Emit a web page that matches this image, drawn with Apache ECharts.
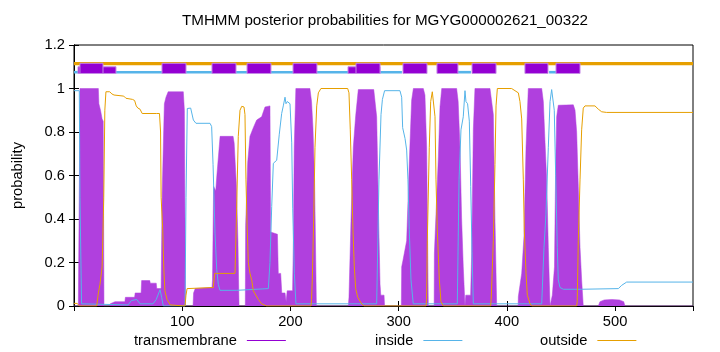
<!DOCTYPE html>
<html><head><meta charset="utf-8">
<script src="https://cdn.jsdelivr.net/npm/echarts@6/dist/echarts.min.js"></script>
<style>html,body{margin:0;padding:0;background:#fff}#c{width:720px;height:352px}</style>
</head><body><div id="c"></div>
<script>
// ---- data (residue position, probability) ----
const tmProb = [[0,0],[4,0],[4.5,0.3],[5,0.6],[5.5,1.0],[22.5,1.0],[23,0.93],[24.5,0.9],[26,0.86],[27,0.85],[27.7,0],
[33,0],[33.5,0.01],[37.9,0.02],[47,0.02],[47.5,0.04],[56,0.04],[56.5,0.06],[62,0.06],[62.5,0.117],[70,0.117],[70.5,0.105],[76,0.105],[76.5,0.08],[80.5,0.08],
[81,0.3],[81.5,0.52],[82.5,0.73],[83.5,0.93],[85,0.96],[87,0.985],[101,0.985],[102,0.9],[103,0],
[110,0],[110.5,0.06],[112,0.08],[127.5,0.085],[128,0.12],
[129,0.55],[131,0.53],[132,0.6],[133.5,0.69],[135,0.78],[147,0.78],[148,0.75],[150,0.56],[151.5,0.3],[152.5,0],
[158.3,0],[158.6,0.37],[160.5,0.66],[162.6,0.78],[165.7,0.82],[168.8,0.855],[173.4,0.87],[176.5,0.915],[181.1,0.92],[181.7,0.34],[188,0.33],[188.8,0.15],[191,0.15],[192,0.06],[195,0.06],[196,0.02],[197,0.07],[202,0.07],
[202.7,0.3],[203.5,0.73],[205,1.0],[218,1.0],[219.5,0.94],[220.8,0.82],[222.3,0.58],[224,0],
[253.5,0],[254.1,0.04],[256,0.4],[258.1,0.73],[260.3,0.875],[262.7,0.995],[277,0.995],[279.7,0.87],[281.5,0.4],[282.8,0.1],[283.5,0.05],[286.5,0.05],[287,0],
[302.5,0],[302.8,0.18],[304,0.21],[307.4,0.3],[309.8,0.656],[312,0.946],[313.6,1.0],[322.8,1.0],[324.3,0.97],[325.9,0.73],[327.4,0],
[332.8,0],[333,0.24],[336.7,0.686],[338.2,0.915],[339.8,1.0],[353.6,1.0],[355,0.94],[356.7,0.73],[358.2,0.4],[359.7,0.18],[361.3,0],[362,0.05],[366.5,0.05],
[367.5,0.24],[369,0.81],[370.5,1.0],[384.4,1.0],[387.5,0.88],[389,0.4],[390.6,0],
[410.4,0],[410.6,0.044],[413.7,0.15],[415.8,0.32],[417.7,0.73],[419.8,1.0],[432.2,1.0],[433.7,0.94],[435.2,0.76],[436.8,0.58],[438.3,0.27],[439.9,0],
[441,0],[442,0.05],[444,0.18],
[445,0.6],[446,0.87],[447.5,0.923],[449.1,0.925],[461.4,0.925],[463,0.9],[464.5,0.8],[466,0.55],[467.6,0.27],[469.1,0.12],[470.6,0],
[484.5,0],[486,0.02],[490,0.028],[497,0.03],[504,0.028],[508,0.02],[509.1,0],[572,0]];

const insideProb = [[0,0.99],[4.9,0.99],[5.5,0.5],[7,0.01],[50,0.005],[53,0.025],[58,0.03],[61,0.01],[73,0.01],[76,0.03],[79.5,0.075],[81,0.04],[82.5,0.0],[102.6,0.0],[103.5,0.5],[104.7,0.908],[107.8,0.91],[110.3,0.855],[112.7,0.84],[125.7,0.84],[127.2,0.825],[128.5,0.65],[130.3,0.335],[131.9,0.167],[133.4,0.098],[134.9,0.072],[150.3,0.072],[151.8,0.08],[179.6,0.08],[181.1,0.2],[182.7,0.457],[184.2,0.656],[187.3,0.67],[189.7,0.79],[191.9,0.885],[193.4,0.92],[195,0.96],[195.9,0.93],[197.1,0.94],[199.6,0.93],[201.2,0.75],[202.1,0.45],[203.6,0.15],[205.1,0.01],[279.7,0.01],[281.8,0.58],[283.7,0.88],[285,0.95],[287,0.99],[301.2,0.99],[302.8,0.96],[303.7,0.82],[305.9,0.77],[307.4,0.717],[308.6,0.58],[309.8,0.35],[311.4,0.12],[313.5,0.01],[354.2,0.01],[355.8,0.58],[357.6,0.81],[359.7,0.87],[361.3,0.99],[362.2,0.94],[363.7,0.93],[365.3,0.85],[366.6,0.55],[367.8,0.25],[369,0.01],[432.2,0.01],[434.3,0.27],[436.1,0.42],[438.3,0.73],[439.9,0.94],[441.4,0.995],[442.9,0.99],[443.8,0.9],[445.1,0.6],[446.6,0.27],[447.5,0.12],[449.1,0.085],[452.2,0.077],[469.1,0.077],[470.6,0.08],[503,0.08],[506.1,0.095],[510.7,0.11],[572,0.11]];

const outsideProb = [[0,0.012],[3,0.012],[5,0.0],[21,0.0],[22.5,0.06],[24,0.1],[26,0.18],[27.5,0.5],[28.5,0.9],[29.5,0.985],[31,0.99],[33,0.985],[35,0.975],[37,0.97],[46,0.965],[48,0.955],[54,0.95],[56,0.945],[57.5,0.92],[59,0.91],[61,0.905],[63,0.885],[76.4,0.885],[77.5,0.888],[79,0.885],[80,0.8],[80.5,0.5],[82,0.35],[83,0.17],[84,0.07],[86,0.03],[89,0.005],[102.6,0.0],[103.5,0.05],[104.5,0.08],[106,0.083],[128.7,0.085],[130,0.15],[148.8,0.15],[150.3,0.45],[151.8,0.78],[153.4,0.9],[155,0.918],[157.1,0.915],[158,0.88],[158.9,0.58],[159.9,0.38],[161.1,0.2],[162.6,0.15],[164.2,0.12],[165.7,0.07],[170.3,0.03],[173.4,0.01],[178,0.0],[219,0.0],[219.5,0.03],[220.2,0.12],[221.5,0.4],[222.7,0.73],[224.3,0.92],[225.8,0.98],[228.2,1.0],[252.9,1.0],[254.1,0.98],[255.3,0.81],[256.6,0.58],[257.8,0.35],[259,0.18],[260.3,0.08],[262.2,0.04],[265.8,0.01],[268,0],[325.3,0.0],[325.8,0.03],[326.5,0.3],[328.3,0.73],[329.6,0.94],[331.1,0.985],[332.7,0.99],[333.6,0.87],[334.5,0.58],[335.7,0.35],[337.6,0.12],[339.1,0.02],[341.3,0],[385,0],[385.5,0.03],[387.5,0.3],[389,0.65],[390,0.92],[391.2,1.0],[404.4,1.0],[407.5,0.99],[410.6,0.98],[412.1,0.94],[413.7,0.86],[415.2,0.58],[416.1,0.35],[417.7,0.15],[418.9,0.05],[421.4,0.01],[423,0],[464.5,0],[465,0.02],[466,0.3],[467.6,0.58],[469.1,0.81],[470.6,0.91],[472.2,0.92],[481.4,0.92],[484.5,0.905],[487.6,0.893],[492.2,0.89],[572,0.89]];

// predicted topology strip: [start, end]
const outsideStrip = [[0, 572]];
const insideStrip = [[0, 3.7], [37.9, 303], [354.8, 366.8], [439, 445.4]];
const tmHelixLow = [[3.7, 38.8], [253.2, 282.8]];
const tmHelix = [[5.5, 26.8], [81.3, 103.5], [127.5, 149.7], [159.9, 182], [202.4, 224.5], [260.6, 282.8], [304, 326.2], [335.4, 354.8], [367.8, 390], [416.7, 438], [445.4, 467.6]];

const xTicks = {min: 0, max: 572, interval: 100};
const yTicks = {min: 0, max: 1.2, interval: 0.2};
const titleText = 'TMHMM posterior probabilities for MGYG000002621_00322';

const PURPLE = '#9400d3', FILL = '#b040de', BLUE = '#56b4e9', ORANGE = '#e69f00';
const FONT = 'Liberation Sans';
const FS = 14.7;

function stripSeries(name, segs, y1, y2, fill, stroke) {
  return {
    type: 'custom', name: name, silent: true, z: 5,
    data: segs.map(s => [s[0], s[1], y1, y2]),
    encode: {x: [0, 1], y: [2, 3]},
    renderItem: function (params, api) {
      const a = api.coord([api.value(0), api.value(3)]);
      const b = api.coord([api.value(1), api.value(2)]);
      return {type: 'rect', shape: {x: a[0], y: a[1], width: b[0] - a[0], height: b[1] - a[1]},
        style: {fill: fill, stroke: stroke || null, lineWidth: stroke ? 1 : 0}};
    }
  };
}

function legendAt(name, color, left) {
  return {data: [name], left: left, top: 333, padding: 0,
    align: 'right', icon: 'rect', itemWidth: 39, itemHeight: 1.2, selectedMode: false,
    itemStyle: {color: color, borderColor: color, borderWidth: 0, opacity: 1},
    lineStyle: {color: color, width: 1, opacity: 1},
    textStyle: {fontFamily: FONT, fontSize: FS, color: '#000', padding: [0, 5, 0, 0]}};
}

const chart = echarts.init(document.getElementById('c'), null, {renderer: 'canvas'});
const axisCommon = {
  axisLine: {show: true, lineStyle: {color: '#000', width: 1}},
  axisTick: {show: true, inside: true, length: 5, lineStyle: {color: '#000'}},
  splitLine: {show: false},
  axisLabel: {color: '#000', fontFamily: FONT, fontSize: FS}
};
chart.setOption({
  animation: false,
  backgroundColor: '#fff',
  graphic: [{type: 'text', x: 385, y: 21, silent: true,
    style: {text: titleText, fill: '#000', font: '15.2px "' + FONT + '"', align: 'center', verticalAlign: 'middle'}}],
  grid: {left: 74, right: 27, top: 45, bottom: 46, show: true, borderColor: '#000', borderWidth: 1, backgroundColor: 'transparent'},
  legend: [legendAt('transmembrane', PURPLE, 134), legendAt('inside', BLUE, 375), legendAt('outside', ORANGE, 540)],
  xAxis: [
    Object.assign({type: 'value', position: 'bottom', min: xTicks.min, max: xTicks.max, interval: xTicks.interval}, axisCommon,
      {axisLabel: Object.assign({}, axisCommon.axisLabel, {margin: 8, showMinLabel: false, showMaxLabel: false})}),
    Object.assign({type: 'value', position: 'top', min: xTicks.min, max: xTicks.max, interval: xTicks.interval}, axisCommon,
      {axisLabel: {show: false}})
  ],
  yAxis: [
    Object.assign({type: 'value', position: 'left', min: yTicks.min, max: yTicks.max, interval: yTicks.interval,
      name: 'probability', nameLocation: 'middle', nameGap: 49, nameRotate: 90,
      nameTextStyle: {fontFamily: FONT, fontSize: FS, color: '#000'}}, axisCommon,
      {axisLabel: Object.assign({}, axisCommon.axisLabel, {margin: 9})}),
    Object.assign({type: 'value', position: 'right', min: yTicks.min, max: yTicks.max, interval: yTicks.interval}, axisCommon,
      {axisLabel: {show: false}})
  ],
  series: [
    {name: 'transmembrane', type: 'line', data: tmProb, symbol: 'none', z: 2, color: PURPLE,
      lineStyle: {color: FILL, width: 0.5}, itemStyle: {color: PURPLE},
      areaStyle: {color: FILL, opacity: 1}},
    {name: 'inside', type: 'line', data: insideProb, symbol: 'none', z: 3, color: BLUE,
      lineStyle: {color: BLUE, width: 1}, itemStyle: {color: BLUE}},
    {name: 'outside', type: 'line', data: outsideProb, symbol: 'none', z: 3, color: ORANGE,
      lineStyle: {color: ORANGE, width: 1}, itemStyle: {color: ORANGE}},
    stripSeries('outsideStrip', outsideStrip, 1.107, 1.122, ORANGE),
    stripSeries('insideStrip', insideStrip, 1.069, 1.081, BLUE),
    stripSeries('tmLow', tmHelixLow, 1.069, 1.100, PURPLE, '#c58ae6'),
    stripSeries('tm', tmHelix, 1.069, 1.116, PURPLE, '#c58ae6')
  ]
});
</script></body></html>
